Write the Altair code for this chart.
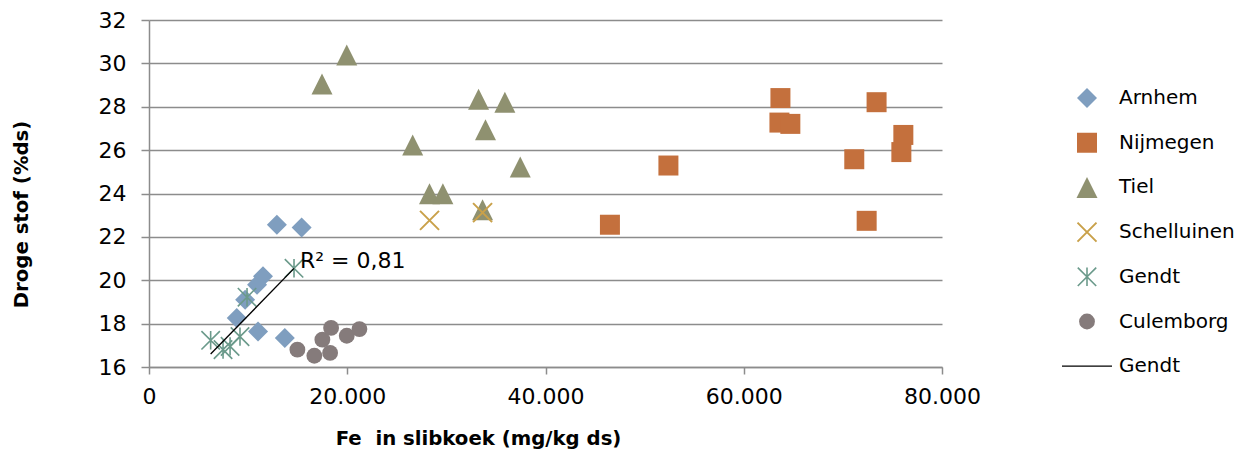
import altair as alt
import pandas as pd

# Fe content in sludge cake (mg/kg ds) and dry solids (%ds) per treatment plant
arnhem_x = [12900, 15400, 11500, 10900, 9700, 8850, 11000, 13700]
arnhem_y = [22.56, 22.43, 20.18, 19.79, 19.10, 18.26, 17.64, 17.34]

nijmegen_x = [63700, 63600, 64700, 52400, 46500, 71150, 72400, 73400, 76100, 75900]
nijmegen_y = [28.40, 27.27, 27.21, 25.29, 22.56, 25.58, 22.74, 28.21, 26.70, 25.91]

tiel_x = [19950, 17450, 33250, 35900, 33950, 26600, 37450, 28300, 29650, 33650]
tiel_y = [30.39, 29.05, 28.35, 28.21, 26.94, 26.24, 25.22, 23.99, 23.99, 23.25]

schelluinen_x = [28300, 33650]
schelluinen_y = [22.76, 23.12]

gendt_x = [6220, 7470, 8180, 9180, 9890, 14630]
gendt_y = [17.23, 16.80, 16.95, 17.40, 19.22, 20.55]

culemborg_x = [14970, 16680, 18270, 17490, 18370, 19950, 21230]
culemborg_y = [16.80, 16.52, 16.65, 17.26, 17.80, 17.44, 17.75]

r2_label = "R² = 0,81"

series = {
    "Arnhem": (arnhem_x, arnhem_y),
    "Nijmegen": (nijmegen_x, nijmegen_y),
    "Tiel": (tiel_x, tiel_y),
    "Schelluinen": (schelluinen_x, schelluinen_y),
    "Gendt": (gendt_x, gendt_y),
    "Culemborg": (culemborg_x, culemborg_y),
}

rows = []
for name, (xs, ys) in series.items():
    for x, y in zip(xs, ys):
        rows.append({"fe": x, "ds": y, "plant": name})
df = pd.DataFrame(rows)

TREND = "Gendt trend"
legend_domain = list(series.keys()) + [TREND]

fill_range = ["#7F9EBF", "#C4703D", "#8F9170", "transparent", "transparent", "#857B7B", "transparent"]
stroke_range = ["#7F9EBF", "#C4703D", "#8F9170", "#C9A14A", "#6B9A8B", "#857B7B", "#000000"]
width_range = [0, 0, 0, 2, 1.6, 0, 1.3]
shape_range = [
    "diamond",
    "square",
    "M0,-1L1,1L-1,1Z",
    "M-1,-1L1,1M-1,1L1,-1",
    "M-1,-1L1,1M-1,1L1,-1M0,-1L0,1",
    "circle",
    "M-1,0L1,0",
]
size_range = [400, 400, 441, 361, 340, 250, 2500]

FONT = "DejaVu Sans"

x_enc = alt.X(
    "fe:Q",
    scale=alt.Scale(domain=[0, 80000], nice=False),
    axis=alt.Axis(
        values=[0, 20000, 40000, 60000, 80000],
        labelExpr="replace(format(datum.value, ','), ',', '.')",
        labelFlush=False,
        title="Fe\u00a0 in slibkoek (mg/kg ds)",
        grid=False,
        tickSize=7,
        labelPadding=12,
        titleX=329,
        titleY=77,
        titleAnchor="start",
        titleAlign="center",
        titleBaseline="alphabetic",
    ),
)
y_enc = alt.Y(
    "ds:Q",
    scale=alt.Scale(domain=[16, 32], nice=False, zero=False),
    axis=alt.Axis(
        values=[16, 18, 20, 22, 24, 26, 28, 30, 32],
        title="Droge stof (%ds)",
        grid=True,
        tickSize=8,
        labelPadding=15,
        titleX=-122,
        titleY=194,
        titleAngle=-90,
        titleAlign="center",
        titleBaseline="alphabetic",
    ),
)

legend = alt.Legend(
    title=None,
    orient="none",
    legendX=912,
    legendY=67,
    labelExpr=f"datum.label == '{TREND}' ? 'Gendt' : datum.label",
    labelFont=FONT,
    labelFontSize=20,
    labelColor="#000000",
    labelOffset=6,
    clipHeight=22,
    rowPadding=22.7,
    padding=0,
)

points = alt.Chart(df).mark_point(opacity=1, fillOpacity=1, strokeOpacity=1).encode(
    x=x_enc,
    y=y_enc,
    shape=alt.Shape("plant:N", scale=alt.Scale(domain=legend_domain, range=shape_range), legend=legend),
    fill=alt.Fill("plant:N", scale=alt.Scale(domain=legend_domain, range=fill_range), legend=legend),
    stroke=alt.Stroke("plant:N", scale=alt.Scale(domain=legend_domain, range=stroke_range), legend=legend),
    strokeWidth=alt.StrokeWidth(
        "plant:N", scale=alt.Scale(type="ordinal", domain=legend_domain, range=width_range), legend=legend
    ),
    size=alt.Size("plant:N", scale=alt.Scale(type="ordinal", domain=legend_domain, range=size_range), legend=legend),
)

# Linear trend line through the Gendt measurements
trend = (
    alt.Chart(df)
    .transform_filter(alt.datum.plant == "Gendt")
    .transform_regression("fe", "ds")
    .mark_line(color="#000000", strokeWidth=1.3)
    .encode(x="fe:Q", y="ds:Q")
)

# R² label attached to the upper end of the trend line
end_idx = gendt_x.index(max(gendt_x))
label_df = pd.DataFrame({"fe": [gendt_x[end_idx]], "ds": [gendt_y[end_idx]], "txt": [r2_label]})
r2_text = (
    alt.Chart(label_df)
    .mark_text(align="left", baseline="middle", dx=6, dy=-7, font=FONT, fontSize=22, color="#000000")
    .encode(x="fe:Q", y="ds:Q", text="txt:N")
)

chart = (
    alt.layer(points, trend, r2_text)
    .properties(
        width=793,
        height=347,
        autosize=alt.AutoSizeParams(type="none"),
        padding={"left": 149, "top": 20, "right": 309, "bottom": 86},
        background="white",
    )
    .configure_view(stroke=None)
    .configure_axis(
        labelFont=FONT,
        labelFontSize=22,
        labelColor="#000000",
        titleFont=FONT,
        titleFontSize=19.7,
        titleFontWeight="bold",
        titleColor="#000000",
        domainColor="#8C8C8C",
        domainWidth=1.5,
        tickColor="#8C8C8C",
        tickWidth=1.5,
        gridColor="#8C8C8C",
        gridWidth=1.6,
    )
)

chart.save("out.html", embed_options={"renderer": "svg", "actions": False})
